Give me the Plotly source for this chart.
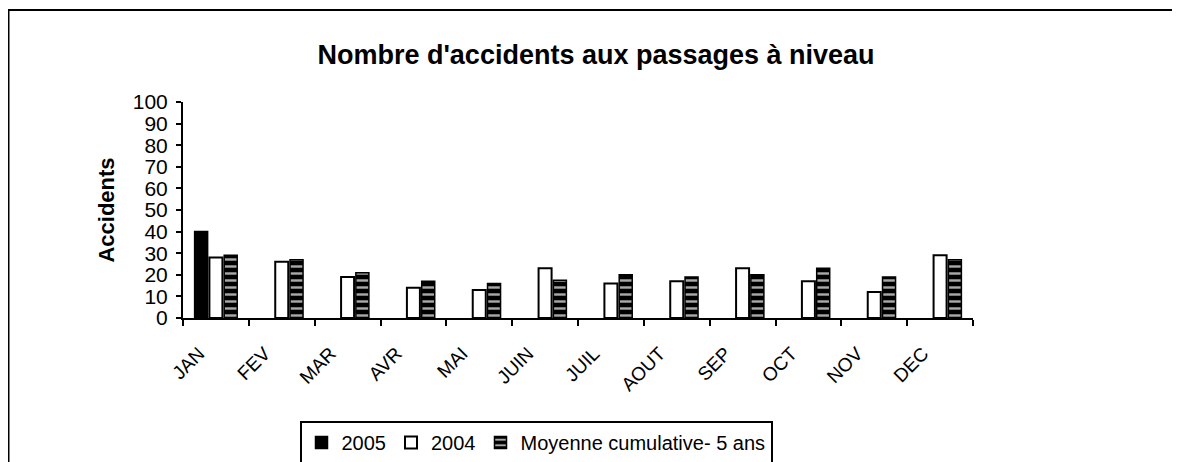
import plotly.graph_objects as go

months = ["JAN", "FEV", "MAR", "AVR", "MAI", "JUIN", "JUIL", "AOUT", "SEP", "OCT", "NOV", "DEC"]
vals_2005 = [40, None, None, None, None, None, None, None, None, None, None, None]
vals_2004 = [28, 26, 19, 14, 13, 23, 16, 17, 23, 17, 12, 29]
vals_moy = [29, 27, 21, 17, 16, 17.5, 20, 19, 20, 23, 19, 27]

FONT = "Arial, Liberation Sans, sans-serif"

# page body adds an 8px offset, so the figure is sized to fill the rest of the window
W, H = 1172, 454
L, R, T, B = 175, 207, 94, 144
PW, PH = W - L - R, H - T - B

fig = go.Figure()
fig.add_trace(go.Bar(
    x=months, y=vals_2005, name="2005",
    marker=dict(color="black", line=dict(color="black", width=1.5)),
))
fig.add_trace(go.Bar(
    x=months, y=vals_2004, name="2004",
    marker=dict(color="white", line=dict(color="black", width=2)),
))
fig.add_trace(go.Bar(
    x=months, y=vals_moy, name="Moyenne cumulative- 5 ans",
    marker=dict(color="black", line=dict(color="black", width=1.5),
                pattern=dict(shape="-", bgcolor="black", fgcolor="#a8a8a8",
                             size=7, solidity=0.35, fillmode="replace")),
))

# overlay axis providing the upward half of the crossing category ticks
boundaries = [i - 0.5 for i in range(len(months) + 1)]

fig.update_layout(
    width=W, height=H,
    margin=dict(l=L, r=R, t=T, b=B, autoexpand=False),
    paper_bgcolor="white", plot_bgcolor="white",
    font=dict(family=FONT, color="black"),
    barmode="group", bargap=0.326, bargroupgap=0.12,
    title=dict(text="<b>Nombre d'accidents aux passages à niveau</b>",
               font=dict(size=27, family=FONT, color="black"),
               x=588 / W, xref="container", xanchor="center",
               y=1 - 47 / H, yref="container", yanchor="middle"),
    xaxis=dict(type="category", categoryorder="array", categoryarray=months,
               range=[-0.5, 11.5], automargin=False,
               showline=True, linecolor="black", linewidth=2,
               ticks="outside", ticklen=6, tickwidth=2, tickcolor="black",
               tickson="boundaries", tickangle=-45,
               tickfont=dict(size=19, family=FONT, color="black"),
               ticklabelstandoff=15, ticklabelshift=-17,
               showgrid=False, zeroline=False, fixedrange=True),
    xaxis2=dict(overlaying="x", anchor="y", range=[-0.5, 11.5], automargin=False,
                tickmode="array", tickvals=boundaries,
                ticks="inside", ticklen=6, tickwidth=2, tickcolor="black",
                showticklabels=False, showline=False, showgrid=False,
                zeroline=False, side="bottom"),
    yaxis=dict(range=[0, 100], dtick=10, tick0=0, automargin=False,
               showline=True, linecolor="black", linewidth=2,
               ticks="outside", ticklen=5, tickwidth=2, tickcolor="black",
               tickfont=dict(size=21, family=FONT, color="black"),
               ticklabelstandoff=4,
               title=dict(text="<b>Accidents</b>", standoff=12,
                          font=dict(size=22, family=FONT, color="black")),
               showgrid=False, zeroline=False),
    legend=dict(orientation="h", x=(528 - L) / PW, xanchor="center",
                y=(PH + T - 413) / PH, yanchor="top",
                bordercolor="black", borderwidth=2, bgcolor="white",
                font=dict(size=20, family=FONT, color="black"),
                itemwidth=30, traceorder="normal"),
    showlegend=True,
    shapes=[dict(type="rect", xref="paper", yref="paper",
                 x0=(0.5 - L) / PW, x1=(W + 20 - L) / PW,
                 y0=(T + PH - H - 20) / PH, y1=(T + PH - 2) / PH,
                 line=dict(color="black", width=2), fillcolor="rgba(0,0,0,0)",
                 layer="below")],
)

fig.write_html("out.html")
